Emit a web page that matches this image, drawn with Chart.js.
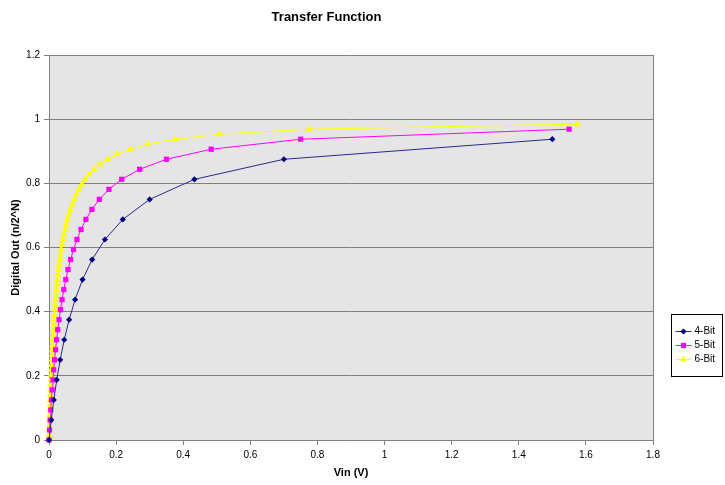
<!DOCTYPE html>
<html>
<head>
<meta charset="utf-8">
<script src="https://cdn.jsdelivr.net/npm/chart.js@4/dist/chart.umd.min.js"></script>
<style>
  html, body { margin: 0; padding: 0; background: #fff; }
  canvas { display: block; }
</style>
</head>
<body>
<canvas id="c" width="725" height="485"></canvas>
<script>
// ---- data ----
const seriesNames = ['4-Bit', '5-Bit', '6-Bit'];

const vin4 = [0, 0.00667, 0.01429, 0.02308, 0.03333, 0.04545, 0.06, 0.07778, 0.1, 0.12857, 0.16667, 0.22, 0.3, 0.43333, 0.7, 1.5];
const out4 = [0, 0.0625, 0.125, 0.1875, 0.25, 0.3125, 0.375, 0.4375, 0.5, 0.5625, 0.625, 0.6875, 0.75, 0.8125, 0.875, 0.9375];

const vin5 = [0, 0.00161, 0.00333, 0.00517, 0.00714, 0.00926, 0.01154, 0.014, 0.01667, 0.01957, 0.02273, 0.02619, 0.03, 0.03421, 0.03889, 0.04412,
              0.05, 0.05667, 0.06429, 0.07308, 0.08333, 0.09545, 0.11, 0.12778, 0.15, 0.17857, 0.21667, 0.27, 0.35, 0.48333, 0.75, 1.55];
const out5 = [0, 0.03125, 0.0625, 0.09375, 0.125, 0.15625, 0.1875, 0.21875, 0.25, 0.28125, 0.3125, 0.34375, 0.375, 0.40625, 0.4375, 0.46875,
              0.5, 0.53125, 0.5625, 0.59375, 0.625, 0.65625, 0.6875, 0.71875, 0.75, 0.78125, 0.8125, 0.84375, 0.875, 0.90625, 0.9375, 0.96875];

const vin6 = [0, 0.0004, 0.00081, 0.00123, 0.00167, 0.00212, 0.00259, 0.00307, 0.00357, 0.00409, 0.00463, 0.00519, 0.00577, 0.00637, 0.007, 0.00765,
              0.00833, 0.00904, 0.00978, 0.01056, 0.01136, 0.01221, 0.0131, 0.01402, 0.015, 0.01603, 0.01711, 0.01824, 0.01944, 0.02071, 0.02206, 0.02348,
              0.025, 0.02661, 0.02833, 0.03017, 0.03214, 0.03426, 0.03654, 0.039, 0.04167, 0.04457, 0.04773, 0.05119, 0.055, 0.05921, 0.06389, 0.06912,
              0.075, 0.08167, 0.08929, 0.09808, 0.10833, 0.12045, 0.135, 0.15278, 0.175, 0.20357, 0.24167, 0.295, 0.375, 0.50833, 0.775, 1.575];
const out6 = [0, 0.015625, 0.03125, 0.046875, 0.0625, 0.078125, 0.09375, 0.109375, 0.125, 0.140625, 0.15625, 0.171875, 0.1875, 0.203125, 0.21875, 0.234375,
              0.25, 0.265625, 0.28125, 0.296875, 0.3125, 0.328125, 0.34375, 0.359375, 0.375, 0.390625, 0.40625, 0.421875, 0.4375, 0.453125, 0.46875, 0.484375,
              0.5, 0.515625, 0.53125, 0.546875, 0.5625, 0.578125, 0.59375, 0.609375, 0.625, 0.640625, 0.65625, 0.671875, 0.6875, 0.703125, 0.71875, 0.734375,
              0.75, 0.765625, 0.78125, 0.796875, 0.8125, 0.828125, 0.84375, 0.859375, 0.875, 0.890625, 0.90625, 0.921875, 0.9375, 0.953125, 0.96875, 0.984375];

const xTicks = [0, 0.2, 0.4, 0.6, 0.8, 1, 1.2, 1.4, 1.6, 1.8];
const yTicks = [0, 0.2, 0.4, 0.6, 0.8, 1, 1.2];

// ---- build ----
const FONT = '"Liberation Sans", Arial, sans-serif';
function pts(xs, ys) { return xs.map((x, i) => ({ x: x, y: ys[i] })); }

const styles = [
  { color: '#000080', line: '#2a2a8c', pointStyle: 'rectRot', radius: 3.1 },
  { color: '#FF00FF', line: '#FF00FF', pointStyle: 'rect', radius: 3.7 },
  { color: '#FFFF00', line: '#FFFF00', pointStyle: 'triangle', radius: 4 }
];
const seriesData = [pts(vin4, out4), pts(vin5, out5), pts(vin6, out6)];

const datasets = seriesNames.map((name, i) => ({
  label: name,
  data: seriesData[i],
  showLine: true,
  borderColor: styles[i].line,
  backgroundColor: styles[i].color,
  borderWidth: 1,
  pointStyle: styles[i].pointStyle,
  pointRadius: styles[i].radius,
  pointBorderWidth: 0,
  pointBackgroundColor: styles[i].color,
  pointBorderColor: styles[i].color,
  tension: 0,
  clip: false
}));

const plotBg = {
  id: 'plotBg',
  beforeDraw(chart) {
    const { ctx, chartArea: a } = chart;
    ctx.save();
    ctx.fillStyle = '#E5E5E5';
    ctx.fillRect(a.left, a.top, a.right - a.left, a.bottom - a.top);
    ctx.restore();
  },
  afterDatasetsDraw(chart) {
    const { ctx, chartArea: a } = chart;
    ctx.save();
    ctx.strokeStyle = '#808080';
    ctx.lineWidth = 1;
    ctx.beginPath();
    const xr = Math.round(a.right) + 0.5;
    ctx.moveTo(xr, a.top);
    ctx.lineTo(xr, a.bottom);
    ctx.stroke();
    ctx.restore();
  }
};

const customLegend = {
  id: 'customLegend',
  afterDraw(chart) {
    const { ctx, chartArea: a } = chart;
    const left = Math.round(a.right) + 18.5;
    const top = 314.5, w = 51, h = 62;
    ctx.save();
    ctx.fillStyle = '#ffffff';
    ctx.fillRect(left, top, w, h);
    ctx.strokeStyle = '#000000';
    ctx.lineWidth = 1;
    ctx.strokeRect(left, top, w, h);
    ctx.font = '10px ' + FONT;
    ctx.textBaseline = 'middle';
    ctx.textAlign = 'left';
    chart.data.datasets.forEach((ds, i) => {
      const y = top + 17 + i * 14;
      ctx.strokeStyle = ds.borderColor;
      ctx.lineWidth = 1;
      ctx.beginPath();
      ctx.moveTo(left + 4, y);
      ctx.lineTo(left + 20, y);
      ctx.stroke();
      ctx.fillStyle = ds.pointBackgroundColor;
      ctx.strokeStyle = ds.pointBorderColor;
      Chart.helpers.drawPoint(ctx, { pointStyle: ds.pointStyle, radius: ds.pointRadius, rotation: 0, borderWidth: 0 }, left + 12, y);
      ctx.fillStyle = '#000000';
      ctx.fillText(ds.label, left + 23, y);
    });
    ctx.restore();
  }
};

new Chart(document.getElementById('c'), {
  type: 'scatter',
  data: { datasets: datasets },
  plugins: [plotBg, customLegend],
  options: {
    responsive: false,
    animation: false,
    events: [],
    layout: { padding: { left: 0, right: 72, top: 0, bottom: 0 } },
    plugins: {
      legend: { display: false },
      tooltip: { enabled: false },
      title: {
        display: true,
        text: 'Transfer Function',
        color: '#000000',
        font: { family: FONT, size: 13, weight: 'bold' },
        padding: { top: 10, bottom: 29.4 }
      }
    },
    scales: {
      x: {
        type: 'linear',
        min: xTicks[0],
        max: xTicks[xTicks.length - 1],
        afterBuildTicks(s) { s.ticks = xTicks.map(v => ({ value: v })); },
        afterFit(s) { s.height = 45; },
        ticks: {
          color: '#000000',
          font: { family: FONT, size: 10 },
          padding: 4,
          maxRotation: 0,
          autoSkip: false,
          callback: v => String(v)
        },
        grid: { drawOnChartArea: false, drawTicks: true, tickLength: 5, color: '#808080' },
        border: { color: '#808080', width: 1 },
        title: {
          display: true,
          text: 'Vin (V)',
          color: '#000000',
          font: { family: FONT, size: 11, weight: 'bold' },
          padding: { top: 0, bottom: 5 }
        }
      },
      y: {
        type: 'linear',
        min: yTicks[0],
        max: yTicks[yTicks.length - 1],
        afterBuildTicks(s) { s.ticks = yTicks.map(v => ({ value: v })); },
        afterFit(s) { s.width = 49; },
        ticks: {
          color: '#000000',
          font: { family: FONT, size: 10 },
          padding: 4,
          autoSkip: false,
          callback: v => String(v)
        },
        grid: { color: '#808080', lineWidth: 1, tickLength: 5, drawTicks: true },
        border: { color: '#808080', width: 1 },
        title: {
          display: true,
          text: 'Digital Out (n/2^N)',
          color: '#000000',
          font: { family: FONT, size: 11, weight: 'bold' },
          padding: { top: 9, bottom: 0 }
        }
      }
    }
  }
});
</script>
</body>
</html>
